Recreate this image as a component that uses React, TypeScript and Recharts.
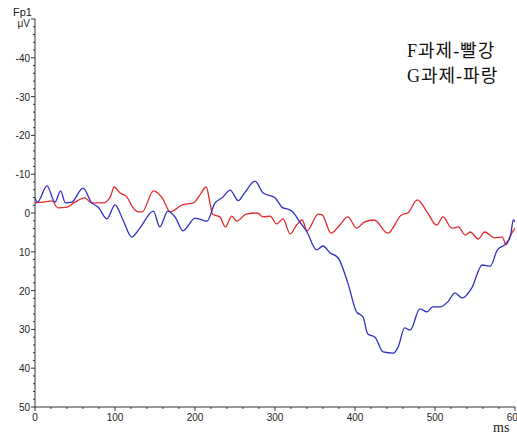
import React from "react";
import { LineChart, Line, XAxis, YAxis } from "recharts";

// Fp1 ERP, negative up. Times in ms, amplitudes in µV.
const blueMs = [0, 3, 15, 25, 32, 38, 46, 60, 71, 79, 90, 100, 110, 121, 131, 148, 156, 166, 175, 185, 200, 215, 225, 234, 244, 254, 262, 275, 285, 300, 310, 316, 322, 331, 340, 352, 360, 369, 379, 391, 402, 410, 416, 425, 435, 448, 454, 462, 469, 481, 490, 497, 506, 516, 525, 534, 546, 559, 569, 578, 587, 594, 598, 600];
const blueUv = [-3.9, -2.8, -7.0, -2.8, -5.7, -2.6, -2.8, -6.4, -2.6, -1.5, 1.5, -2.1, 1.8, 6.2, 3.9, -0.5, 3.6, -0.5, 1.0, 4.6, 1.3, 2.1, -2.6, -3.9, -5.9, -3.2, -5.2, -8.2, -5.2, -3.9, -1.3, -1.0, -0.3, 2.3, 4.9, 9.5, 8.5, 10.3, 11.6, 18.0, 25.5, 26.8, 31.2, 32.0, 35.8, 36.1, 34.5, 29.6, 30.2, 24.7, 25.5, 24.2, 24.2, 22.9, 20.6, 21.9, 19.3, 13.4, 13.7, 9.5, 8.2, 6.2, 1.8, 2.3];

const redMs = [0, 10, 21, 29, 40, 50, 62, 71, 85, 94, 99, 106, 115, 122, 129, 134, 148, 159, 169, 184, 198, 206, 214, 219, 222, 231, 238, 246, 252, 264, 278, 285, 294, 302, 310, 319, 327, 334, 340, 354, 359, 370, 381, 391, 402, 412, 424, 441, 458, 466, 478, 490, 502, 510, 521, 529, 538, 544, 554, 562, 575, 584, 589, 594, 600];
const redUv = [-2.6, -2.8, -3.1, -1.3, -1.5, -2.8, -3.9, -2.6, -2.6, -4.1, -6.7, -5.2, -4.1, -1.5, -0.3, -0.3, -5.7, -3.9, -0.3, -2.1, -2.6, -4.6, -6.7, -2.3, 0.3, 1.0, 3.6, 0.8, 2.1, 0.3, 0, 1.0, 0.8, 2.8, 1.5, 5.4, 3.1, 1.8, 4.6, 0.3, 0.5, 5.2, 3.1, 1.0, 3.9, 2.3, 1.8, 5.2, 0.5, 0, -3.4, -0.3, 3.1, 1.0, 3.9, 3.6, 5.7, 4.9, 6.7, 4.9, 6.4, 6.2, 8.2, 5.9, 3.9];

const xTicks = [0, 20, 40, 60, 80, 100, 120, 140, 160, 180, 200, 220, 240, 260, 280, 300, 320, 340, 360, 380, 400, 420, 440, 460, 480, 500, 520, 540, 560, 580, 600];
const yTicks = [-50, -48, -46, -44, -42, -40, -38, -36, -34, -32, -30, -28, -26, -24, -22, -20, -18, -16, -14, -12, -10, -8, -6, -4, -2, 0, 2, 4, 6, 8, 10, 12, 14, 16, 18, 20, 22, 24, 26, 28, 30, 32, 34, 36, 38, 40, 42, 44, 46, 48, 50];

const blue = blueMs.map((t, i) => ({ t, v: blueUv[i] }));
const red = redMs.map((t, i) => ({ t, v: redUv[i] }));

const AXIS = "#333";
const tickFont = { fontFamily: "'Liberation Sans', Arial, sans-serif", fontSize: 10, fill: "#222" };
const legendFont = { fontFamily: "'Liberation Serif', 'Noto Sans CJK KR', serif", fontSize: 18, letterSpacing: 1, fill: "#111" };

function XTick({ x, y, payload }: any) {
  const major = payload.value % 100 === 0;
  return (
    <g>
      <line x1={x} x2={x} y1={y} y2={y + (major ? 4 : 2)} stroke={AXIS} />
      {major && (
        <text x={x} y={y + 14} textAnchor="middle" {...tickFont}>
          {payload.value}
        </text>
      )}
    </g>
  );
}

function YTick({ x, y, payload }: any) {
  const v = payload.value;
  const major = v % 10 === 0;
  return (
    <g>
      <line x1={x - (major ? 4 : 2)} x2={x} y1={y} y2={y} stroke={AXIS} />
      {major && (
        <text x={x - 5} y={v === -50 ? y + 8 : y + 4} textAnchor="end" {...tickFont}>
          {v === -50 ? "μV" : v}
        </text>
      )}
    </g>
  );
}

export default function App() {
  return (
    <div style={{ position: "absolute", left: 0, top: 0, width: 517, height: 435, background: "#fff" }}>
      <LineChart width={517} height={435} margin={{ top: 19, right: 2, bottom: 0, left: 0 }}>
        <XAxis
          type="number"
          dataKey="t"
          domain={[0, 600]}
          ticks={xTicks}
          interval={0}
          allowDataOverflow
          height={28}
          tickSize={0}
          tickMargin={0}
          tickLine={false}
          axisLine={{ stroke: AXIS }}
          tick={<XTick />}
        />
        <YAxis
          type="number"
          dataKey="v"
          domain={[-50, 50]}
          reversed
          ticks={yTicks}
          interval={0}
          width={35}
          tickSize={0}
          tickMargin={0}
          tickLine={false}
          axisLine={{ stroke: AXIS }}
          tick={<YTick />}
        />
        <Line data={red} dataKey="v" type="monotone" stroke="#e5282c" strokeWidth={1.3} dot={false} isAnimationActive={false} />
        <Line data={blue} dataKey="v" type="monotone" stroke="#2f2fc4" strokeWidth={1.3} dot={false} isAnimationActive={false} />
        <text x={13} y={16} {...tickFont} fontSize={11}>Fp1</text>
        <text x={493} y={432} fontFamily="'Liberation Serif', serif" fontSize={14} fill="#222">ms</text>
        <text x={407} y={57} {...legendFont}>F과제-빨강</text>
        <text x={407} y={82} {...legendFont}>G과제-파랑</text>
      </LineChart>
    </div>
  );
}
